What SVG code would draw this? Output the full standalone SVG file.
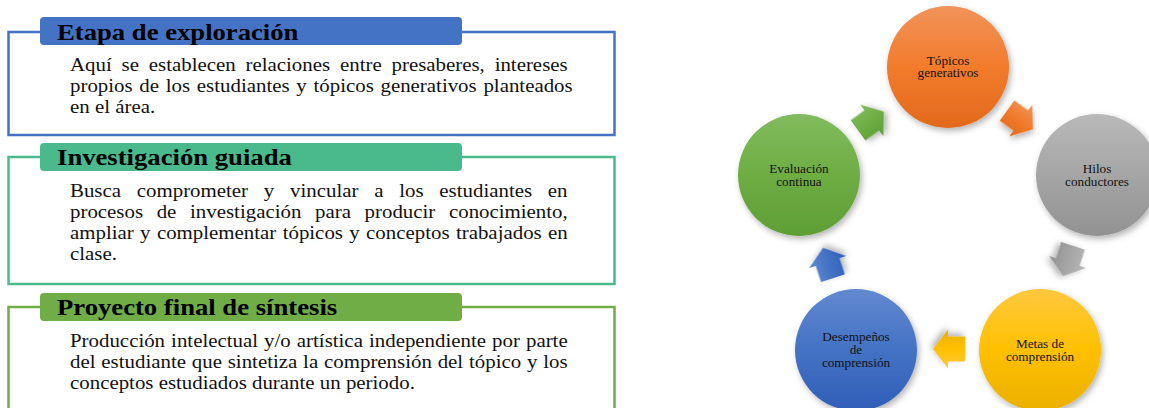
<svg xmlns="http://www.w3.org/2000/svg" width="1149" height="408" viewBox="0 0 1149 408">
<style>
.hd{font-family:"Liberation Serif","Times New Roman",serif;font-weight:bold;font-size:23px;fill:#000}
.bd{font-family:"Liberation Serif","Times New Roman",serif;font-size:18px;fill:#111}
.ct{font-family:"Liberation Serif","Times New Roman",serif;font-size:11.5px;fill:#111;text-anchor:middle}
.frame{fill:none;stroke-width:2.5}
</style>
<defs>
<filter id="sh" x="-30%" y="-30%" width="170%" height="170%">
<feDropShadow dx="2" dy="3" stdDeviation="3" flood-color="#000" flood-opacity="0.3"/>
</filter>
<linearGradient id="gO" x1="0" y1="0" x2="0" y2="1"><stop offset="0" stop-color="#F1935A"/><stop offset="0.5" stop-color="#F27B2C"/><stop offset="1" stop-color="#E2691C"/></linearGradient>
<linearGradient id="gG" x1="0" y1="0" x2="0" y2="1"><stop offset="0" stop-color="#B9B9B9"/><stop offset="0.5" stop-color="#A5A5A5"/><stop offset="1" stop-color="#929292"/></linearGradient>
<linearGradient id="gY" x1="0" y1="0" x2="0" y2="1"><stop offset="0" stop-color="#FFC83F"/><stop offset="0.5" stop-color="#FFC000"/><stop offset="1" stop-color="#EBB000"/></linearGradient>
<linearGradient id="gB" x1="0" y1="0" x2="0" y2="1"><stop offset="0" stop-color="#6289D0"/><stop offset="0.5" stop-color="#4472C4"/><stop offset="1" stop-color="#2F5EB8"/></linearGradient>
<linearGradient id="gV" x1="0" y1="0" x2="0" y2="1"><stop offset="0" stop-color="#82BB5F"/><stop offset="0.5" stop-color="#6EAD43"/><stop offset="1" stop-color="#5E9E35"/></linearGradient>
<polygon id="arr" points="-16,-12.5 1,-12.5 1,-19.5 16,0 1,19.5 1,12.5 -16,12.5"/>
</defs>

<g id="panel-exploracion">
<path class="frame" stroke="#4472C4" d="M40 32 H8.5 V135 H614.5 V32 H462"/>
<rect x="40" y="17" width="422" height="28" rx="4" fill="#4472C4"/>
<g transform="translate(57,0) scale(1.16,1)"><text class="hd" x="0" y="40">Etapa de exploración</text></g>
<g transform="translate(70,0) scale(1.16,1)">
<text class="bd" x="0" y="71" word-spacing="3.98">Aquí se establecen relaciones entre presaberes, intereses</text>
<text class="bd" x="0" y="92" word-spacing="1.3">propios de los estudiantes y tópicos generativos planteados</text>
<text class="bd" x="0" y="113">en el área.</text>
</g>
</g>

<g id="panel-investigacion">
<path class="frame" stroke="#4ABA8D" d="M40 157 H8.5 V284 H614.5 V157 H462"/>
<rect x="40" y="143" width="422" height="28" rx="4" fill="#4ABA8D"/>
<g transform="translate(57,0) scale(1.16,1)"><text class="hd" x="0" y="165.5">Investigación guiada</text></g>
<g transform="translate(70,0) scale(1.16,1)">
<text class="bd" x="0" y="197" word-spacing="9.1">Busca comprometer y vincular a los estudiantes en</text>
<text class="bd" x="0" y="218" word-spacing="7.28">procesos de investigación para producir conocimiento,</text>
<text class="bd" x="0" y="239" word-spacing="0.99">ampliar y complementar tópicos y conceptos trabajados en</text>
<text class="bd" x="0" y="260">clase.</text>
</g>
</g>

<g id="panel-proyecto">
<path class="frame" stroke="#70AD47" d="M40 307 H8.5 V412 M614.5 412 V307 H462"/>
<rect x="40" y="293" width="422" height="28" rx="4" fill="#70AD47"/>
<g transform="translate(57,0) scale(1.16,1)"><text class="hd" x="0" y="315.5">Proyecto final de síntesis</text></g>
<g transform="translate(70,0) scale(1.16,1)">
<text class="bd" x="0" y="347" word-spacing="0.73">Producción intelectual y/o artística independiente por parte</text>
<text class="bd" x="0" y="368" word-spacing="0.53">del estudiante que sintetiza la comprensión del tópico y los</text>
<text class="bd" x="0" y="389">conceptos estudiados durante un periodo.</text>
</g>
</g>

<g id="connectors">
<use href="#arr" fill="url(#gV)" filter="url(#sh)" transform="translate(871,121) rotate(-36)"/>
<use href="#arr" fill="url(#gO)" filter="url(#sh)" transform="translate(1020,120) rotate(36)"/>
<use href="#arr" fill="url(#gG)" filter="url(#sh)" transform="translate(1068,261) rotate(108)"/>
<use href="#arr" fill="url(#gY)" filter="url(#sh)" transform="translate(949,349) rotate(180)"/>
<use href="#arr" fill="url(#gB)" filter="url(#sh)" transform="translate(828,263) rotate(-108)"/>
</g>

<g id="node-topicos">
<circle cx="948" cy="67" r="61" fill="url(#gO)" filter="url(#sh)"/>
<g transform="translate(948,0) scale(1.15,1)"><text class="ct" x="0" y="65">Tópicos</text><text class="ct" x="0" y="77">generativos</text></g>
</g>
<g id="node-hilos">
<circle cx="1097" cy="175" r="61" fill="url(#gG)" filter="url(#sh)"/>
<g transform="translate(1097,0) scale(1.15,1)"><text class="ct" x="0" y="173">Hilos</text><text class="ct" x="0" y="186">conductores</text></g>
</g>
<g id="node-metas">
<circle cx="1040" cy="350" r="61" fill="url(#gY)" filter="url(#sh)"/>
<g transform="translate(1040,0) scale(1.15,1)"><text class="ct" x="0" y="348">Metas de</text><text class="ct" x="0" y="361">comprensión</text></g>
</g>
<g id="node-desempenos">
<circle cx="856" cy="350" r="61" fill="url(#gB)" filter="url(#sh)"/>
<g transform="translate(856,0) scale(1.15,1)"><text class="ct" x="0" y="341">Desempeños</text><text class="ct" x="0" y="354">de</text><text class="ct" x="0" y="367">comprensión</text></g>
</g>
<g id="node-evaluacion">
<circle cx="799" cy="175" r="61" fill="url(#gV)" filter="url(#sh)"/>
<g transform="translate(799,0) scale(1.15,1)"><text class="ct" x="0" y="173">Evaluación</text><text class="ct" x="0" y="186">continua</text></g>
</g>
</svg>
